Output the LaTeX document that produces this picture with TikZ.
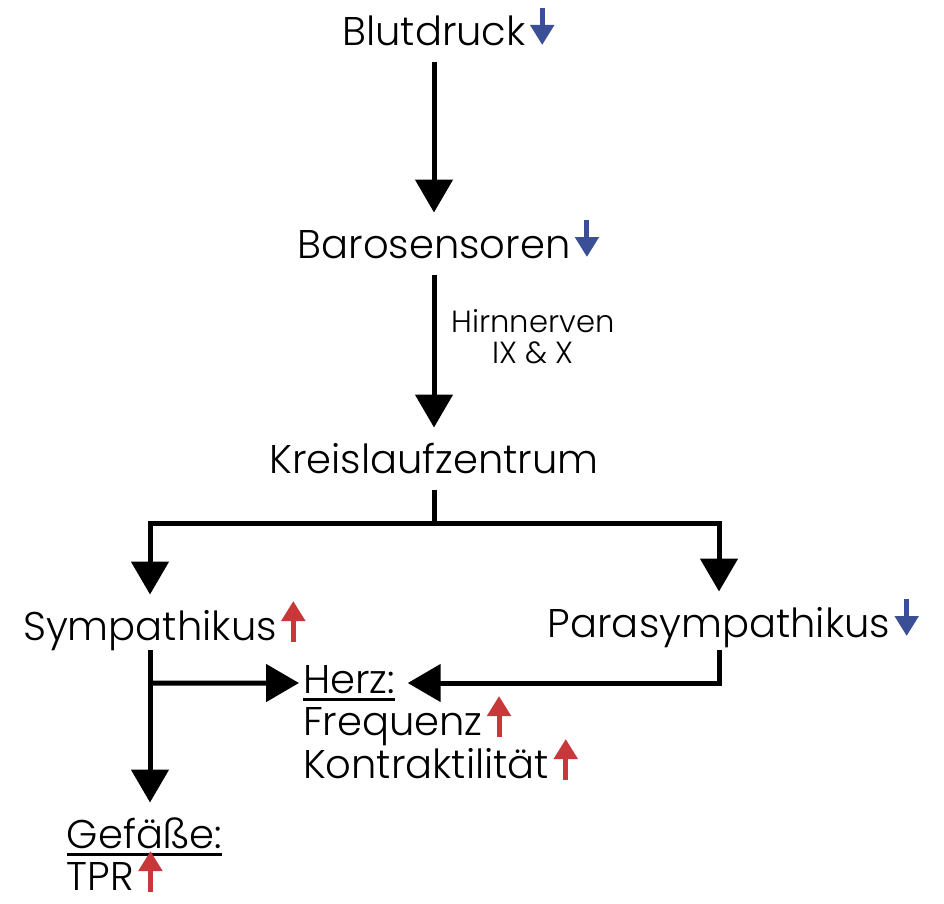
\documentclass[tikz,border=0pt]{standalone}
\usepackage{fontspec}
\setmainfont{Poppins}[UprightFont=* Light]
\usepackage{tikz}
\usetikzlibrary{arrows.meta}
\definecolor{upred}{HTML}{C8373A}
\definecolor{downblue}{HTML}{3A4F95}
\newcommand{\ulin}[1]{\setbox0=\hbox{#1}\rlap{\rule[-0.75mm]{\wd0}{0.3mm}}\box0}
\tikzset{every picture/.style={line width=0.5mm}}
\tikzset{
  txt/.style={font=\fontsize{11.4}{14}\selectfont, inner sep=0pt, outer sep=1.65mm,
    text height=2.9mm, text depth=0pt, anchor=base},
  nerv/.style={font=\fontsize{8.7}{8.8}\selectfont, align=center, inner sep=0pt},
  arr/.style={-{Triangle[width=3.7mm,length=3.3mm]}},
  upmark/.style={-{Triangle[width=2.3mm,length=2mm]}, draw=upred, fill=upred},
  downmark/.style={-{Triangle[width=2.3mm,length=2mm]}, draw=downblue, fill=downblue},
}

\begin{document}
\begin{tikzpicture}[x=0.1mm,y=-0.1mm]
\useasboundingbox (0,0) rectangle (944,903);
\node[txt] (blut) at (434,46) {Blutdruck};
\node[txt] (baro) at (434,258) {Barosensoren};
\node[txt] (kreis) at (434,473) {Kreislaufzentrum};
\node[nerv] (hirn) at (533,337) {Hirnnerven\\IX \& X};
%
\node[txt] (sym) at (150,640) {Sympathikus};
\node[txt] (para) at (719,637) {Parasympathikus};
\node[txt,anchor=base west,outer sep=0.4mm,text depth=0.9mm] (herz) at (299,693) {\ulin{Herz:}};
\node[txt,anchor=base west] (freq) at (286.5,735) {Frequenz};
\node[txt,anchor=base west] (kontr) at (286.5,778) {Kontraktilität};
\node[txt,anchor=base west] (gef) at (50.5,848) {\ulin{Gefäße:}};
\node[txt,anchor=base west] (tpr) at (50.5,890) {TPR};
%
\coordinate (split) at (434,523);
\coordinate (hz) at (150,683);
\draw[arr] (blut) -- (baro);
\draw[arr] (baro) -- (kreis);
\draw (kreis) -- (split);
\draw[arr] (split) -| (sym);
\draw[arr] (split) -| (para);
\draw[arr,shorten <=-0.65mm] (sym) -- (sym |- gef.north);
\draw[arr] (hz) -- (herz);
\draw[arr,shorten <=-0.35mm,shorten >=0.9mm] (para) |- (herz);
%
\foreach \n in {blut,baro,para}
  \draw[downmark] ([yshift=3.8mm]\n.base east) -- ([yshift=0.1mm]\n.base east);
\foreach \n in {sym,freq,kontr,tpr}
  \draw[upmark] ([yshift=-0.2mm]\n.base east) -- ([yshift=3.9mm]\n.base east);
\end{tikzpicture}
\end{document}
